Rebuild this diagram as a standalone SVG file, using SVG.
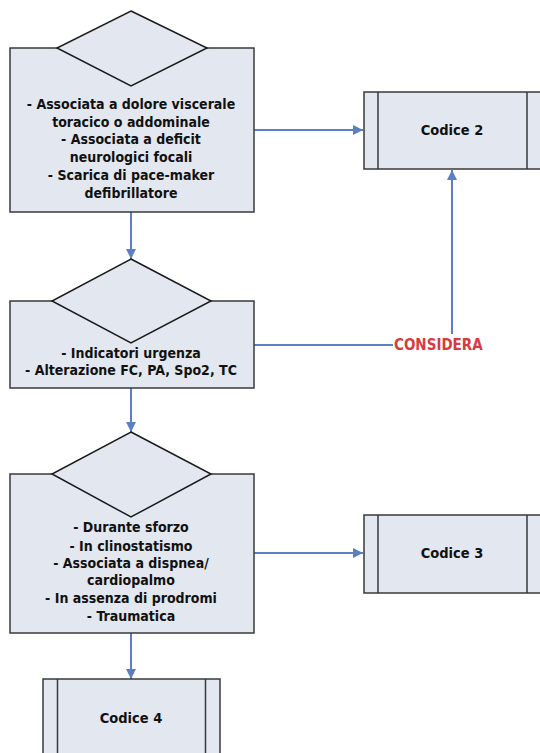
<svg xmlns="http://www.w3.org/2000/svg" width="540" height="753" viewBox="0 0 540 753">
<defs>
<marker id="arr" viewBox="0 0 10 10" refX="10" refY="5" markerWidth="10" markerHeight="10" markerUnits="userSpaceOnUse" orient="auto">
<path d="M0,0 L10,5 L0,10 z" fill="#5b7fc0"/>
</marker>
</defs>
<style>
.box{fill:#e3e7f0;stroke:#3a3a3a;stroke-width:1.5}
.dia{fill:#e3e7f0;stroke:#1a1a1a;stroke-width:1.5}
.in{fill:none;stroke:#3a3a3a;stroke-width:1.5}
.t{font-family:"DejaVu Sans Condensed","DejaVu Sans",sans-serif;font-weight:bold;font-size:14px;fill:#111;text-anchor:middle}
.k{font-size:14.5px}
.c{fill:none;stroke:#5b7fc0;stroke-width:2}
.red{font-family:"DejaVu Sans Condensed","DejaVu Sans",sans-serif;font-weight:bold;font-size:15px;fill:#d63b3e}
</style>
<rect width="540" height="753" fill="#ffffff"/>
<g id="connectors">
<path class="c" d="M254,130 H363" marker-end="url(#arr)"/>
<path class="c" d="M131,212 V259" marker-end="url(#arr)"/>
<path class="c" d="M254,345 H393"/>
<path class="c" d="M452,334 V170" marker-end="url(#arr)"/>
<path class="c" d="M131,388 V432" marker-end="url(#arr)"/>
<path class="c" d="M254,553 H363" marker-end="url(#arr)"/>
<path class="c" d="M131,633 V679" marker-end="url(#arr)"/>
<text class="red" x="394" y="350">CONSIDERA</text>
</g>
<g id="decision1">
<rect class="box" x="10" y="48" width="244" height="164"/>
<path class="dia" d="M131,11 L207,48 L131,86 L57,48 Z"/>
<text class="t" x="131" y="109">- Associata a dolore viscerale</text>
<text class="t" x="131" y="126.5">toracico o addominale</text>
<text class="t" x="131" y="144">- Associata a deficit</text>
<text class="t" x="131" y="162">neurologici focali</text>
<text class="t" x="131" y="180">- Scarica di pace-maker</text>
<text class="t" x="131" y="198">defibrillatore</text>
</g>
<g id="codice2">
<rect class="box" x="364" y="92" width="180" height="77"/>
<path class="in" d="M378,92 V169 M527,92 V169"/>
<text class="t k" x="452" y="135">Codice 2</text>
</g>
<g id="decision2">
<rect class="box" x="10" y="301" width="244" height="87"/>
<path class="dia" d="M131,259 L211,301 L131,343 L52,301 Z"/>
<text class="t" x="131" y="358">- Indicatori urgenza</text>
<text class="t" x="131" y="375">- Alterazione FC, PA, Spo2, TC</text>
</g>
<g id="decision3">
<rect class="box" x="10" y="474" width="244" height="159"/>
<path class="dia" d="M131,432 L211,474 L131,517 L52,474 Z"/>
<text class="t" x="131" y="531.5">- Durante sforzo</text>
<text class="t" x="131" y="550.5">- In clinostatismo</text>
<text class="t" x="131" y="568">- Associata a dispnea/</text>
<text class="t" x="131" y="585">cardiopalmo</text>
<text class="t" x="131" y="603">- In assenza di prodromi</text>
<text class="t" x="131" y="620.5">- Traumatica</text>
</g>
<g id="codice3">
<rect class="box" x="364" y="515" width="180" height="78"/>
<path class="in" d="M378,515 V593 M527,515 V593"/>
<text class="t k" x="452" y="558">Codice 3</text>
</g>
<g id="codice4">
<rect class="box" x="43" y="679" width="177" height="80"/>
<path class="in" d="M57.5,679 V759 M205.5,679 V759"/>
<text class="t k" x="131" y="723">Codice 4</text>
</g>
</svg>
